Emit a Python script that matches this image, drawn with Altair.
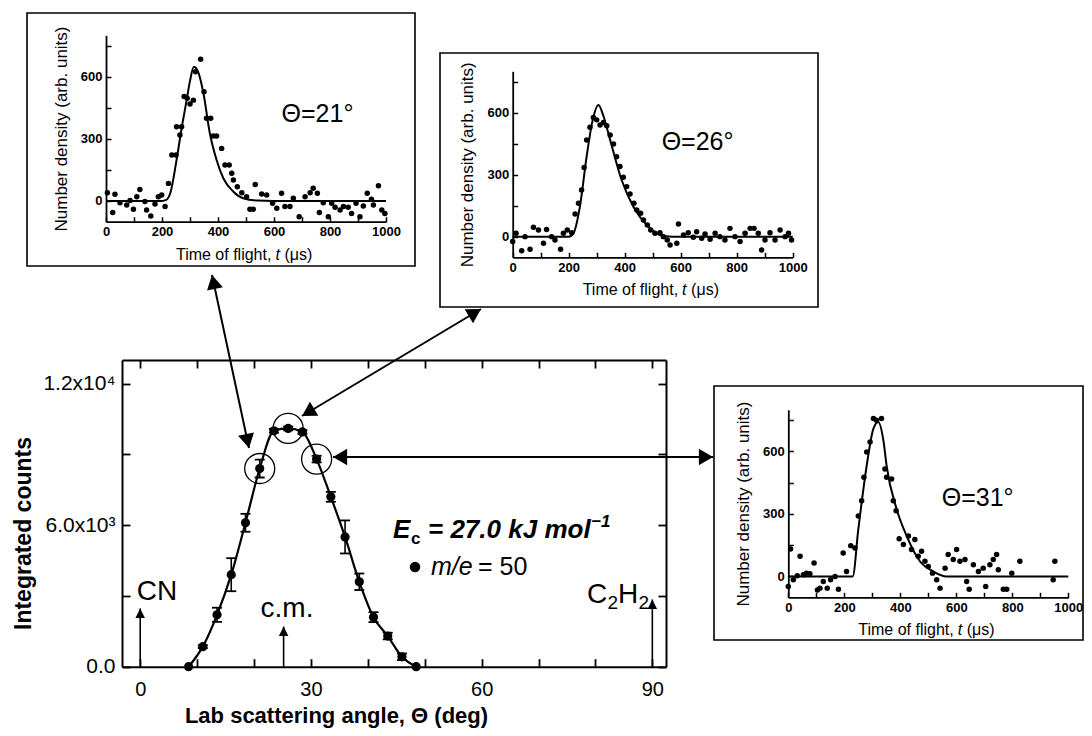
import math
import altair as alt
import pandas as pd

W, H = 1076, 720
FONT = "Liberation Sans"
INK = "black"

# ---------------- main angular distribution ----------------
theta = [8.5, 11, 13.5, 16, 18.5, 21, 23.5, 26, 28.5, 31, 33.5, 36, 38.5, 41, 43.5, 46, 48.5]
counts = [0, 850, 2200, 3900, 6100, 8400, 10000, 10100, 9950, 8800, 7200, 5500, 3600, 2100, 1300, 420, 0]
errs = [0, 60, 300, 700, 380, 380, 80, 80, 80, 140, 210, 700, 350, 210, 140, 140, 0]
circled = [21, 26, 31]

x_ticks_main = [0, 30, 60, 90]
x_minor_main = [0, 10, 20, 30, 40, 50, 60, 70, 80, 90]
y_ticks_main = [0, 6000, 12000]
y_tick_labels_main = ["0.0", "6.0x10³", "1.2x10⁴"]
y_minor_main = [0, 3000, 6000, 9000, 12000]

marker_angles = [0, 25.2, 90]
marker_tops = [2470, 1700, 2850]

# ---------------- TOF insets ----------------
t1 = [5, 24, 32, 50, 74, 86, 98, 110, 121, 139, 145, 160, 175, 187, 199, 211, 223, 235, 250, 252,
      264, 270, 279, 290, 300, 312, 320, 338, 350, 359, 374, 383, 395, 413, 425, 440, 449, 455, 469, 485,
      502, 514, 526, 533, 556, 574, 595, 610, 627, 639, 657, 669, 690, 711, 729, 740, 755, 762, 776, 794,
      806, 818, 836, 848, 865, 877, 893, 907, 919, 933, 948, 955, 973, 985, 996]
n1 = [40, -56, 32, -8, -19, 2, -40, 21, 56, -3, -43, -72, -14, 21, 29, -27, 85, 222, 222, 359,
      319, 359, 504, 496, 468, 487, 624, 684, 528, 399, 399, 314, 314, 254, 174, 174, 134, 101, 69, 40,
      21, -40, -40, 80, 34, 29, -11, -35, 37, -27, -27, 13, -76, 21, 40, 61, 37, -56, -8, -76,
      -11, -30, -43, -27, -30, -60, -11, -76, -24, 37, 8, -19, 74, -43, -60]
f1t = [0, 200, 215, 230, 252, 270, 288, 300, 314, 330, 348, 371, 395, 419, 455, 490, 540, 600, 1000]
f1n = [0, 0, 5, 40, 198, 350, 487, 580, 648, 620, 520, 326, 198, 110, 45, 13, 2, 0, 0]

t2 = [0, 12, 32, 44, 62, 74, 92, 110, 121, 139, 151, 171, 181, 195, 211, 223, 235, 246, 255, 264,
      276, 288, 300, 312, 324, 336, 348, 360, 371, 383, 395, 407, 419, 433, 443, 457, 467, 481, 493, 508,
      526, 538, 552, 562, 586, 592, 610, 627, 645, 657, 675, 687, 705, 723, 740, 758, 776, 794, 812, 830,
      848, 862, 877, 889, 901, 919, 937, 955, 973, 985, 996]
n2 = [-24, 16, -68, 0, -61, 45, 32, -32, 35, 0, -16, -61, 16, 32, 19, 110, 161, 226, 335, 468,
      529, 577, 565, 540, 552, 536, 492, 448, 387, 339, 287, 242, 206, 161, 129, 113, 81, 56, 32, 16,
      19, 0, -16, -40, -32, 61, 8, 19, -3, 24, -8, 13, -13, 16, 0, -16, 40, 0, -24, 16,
      40, 40, 16, -65, -16, 19, -16, 32, 0, 16, -16]
f2t = [0, 200, 217, 240, 264, 285, 306, 325, 348, 389, 431, 479, 526, 570, 1000]
f2n = [0, 0, 16, 145, 387, 560, 637, 580, 468, 274, 145, 56, 8, 0, 0]

t3 = [0, 8, 18, 32, 42, 54, 65, 77, 92, 104, 113, 125, 139, 151, 167, 179, 196, 208, 223, 238,
      250, 262, 270, 280, 292, 304, 315, 333, 345, 351, 369, 375, 385, 396, 411, 429, 440, 452, 464, 476,
      488, 500, 515, 530, 542, 560, 571, 589, 601, 613, 631, 637, 646, 661, 679, 696, 705, 720, 732, 744,
      750, 768, 780, 798, 827, 946, 952]
n3 = [-48, 132, -16, 3, 97, 8, 16, 13, 65, -65, -56, -24, -56, -16, 0, -61, 113, 24, 148, 137,
      290, 363, 476, 597, 645, 758, 750, 758, 516, 476, 468, 363, 315, 181, 153, 194, 129, 177, 97, 121,
      73, 48, 16, -16, -56, 40, 105, 81, 129, 73, 81, -24, -61, 56, 24, 40, -48, 56, 81, 105,
      32, -61, -61, 16, 73, -16, 73]
f3t = [0, 230, 250, 280, 304, 321, 340, 351, 387, 423, 470, 518, 565, 1000]
f3n = [0, 0, 226, 532, 710, 742, 650, 532, 323, 194, 73, 24, 0, 0]

inset_labels = ["Θ=21°", "Θ=26°", "Θ=31°"]
inset_label_t = [627, 532, 548]
inset_label_n = [420, 457, 379]
tof_ticks = [0, 200, 400, 600, 800, 1000]
tof_minor = [0, 100, 200, 300, 400, 500, 600, 700, 800, 900, 1000]
dens_ticks = [0, 300, 600]
dens_minor = [0, 150, 300, 450, 600, 750]
tof_title_parts = ["Time of flight,", "t", "(μs)"]
tof_title_anchor = 605   # position (in μs) of the italic "t" of the axis title

# ---------------- layout (reference pixel positions) ----------------
def frame(x0, x1, y0, y1, xdom, ydom):
    return dict(x0=x0, x1=x1, y0=y0, y1=y1, xdom=xdom, ydom=ydom)

MAIN = frame(122, 666, 666.7, 360, [-3.2, 92.4], [0, 13000])
IN1 = frame(106, 386, 221.7, 35.3, [0, 1000], [-100, 800])
IN2 = frame(512.7, 792.7, 257.3, 71.3, [0, 1000], [-100, 800])
IN3 = frame(788.3, 1068.3, 597.3, 409.8, [0, 1000], [-100, 800])
PAGE = frame(8, 8 + W, 8, 8 + H, [8, 8 + W], [8, 8 + H])

box_x = [27, 440, 714]
box_x2 = [415, 818, 1083]
box_y = [13, 53, 386]
box_y2 = [266, 307, 640]

arrow_ends = [(212, 275, 249, 448), (481, 309, 302, 416), (333, 457, 713, 457)]

HEAD_BIG = "M0,0L-1.15,2L1.15,2Z"
HEAD_SMALL = "M0,0L-1,2L1,2Z"


def xs(fr):
    return alt.Scale(domain=fr["xdom"], range=[fr["x0"] - 8, fr["x1"] - 8], zero=False, nice=False)


def ys(fr):
    return alt.Scale(domain=fr["ydom"], range=[fr["y0"] - 8, fr["y1"] - 8], zero=False, nice=False)


def X(field, fr, axis=None):
    return alt.X(f"{field}:Q", scale=xs(fr), axis=axis)


def Y(field, fr, axis=None):
    return alt.Y(f"{field}:Q", scale=ys(fr), axis=axis)


def off_bottom(yp):
    return (yp - 8) - H


def off_top(yp):
    return -(yp - 8)


def off_left(xp):
    return -(xp - 8)


def off_right(xp):
    return (xp - 8) - W


BASE = dict(grid=False, domainColor=INK, tickColor=INK, labelColor=INK, titleColor=INK,
            labelFont=FONT, titleFont=FONT, labelFlush=False, labelOverlap=False, zindex=1)


def axis_layer(fr, xaxis, yaxis):
    df = pd.DataFrame({"x": [fr["xdom"][0]], "y": [fr["ydom"][0]]})
    return alt.Chart(df).mark_point(opacity=0).encode(
        x=alt.X("x:Q", scale=xs(fr), axis=xaxis),
        y=alt.Y("y:Q", scale=ys(fr), axis=yaxis),
    )


def text_at(fr, x, y, text, size, align="left", dx=0, dy=0, weight="normal", style="normal", baseline="alphabetic"):
    df = pd.DataFrame({"x": [x], "y": [y], "text": [text]})
    return alt.Chart(df).mark_text(font=FONT, color=INK, fontSize=size, align=align, dx=dx, dy=dy,
                                   fontWeight=weight, fontStyle=style, baseline=baseline).encode(
        x=X("x", fr), y=Y("y", fr), text="text:N")


layers = []

# ---------- decoration in page coordinates ----------
boxes = pd.DataFrame({"x": box_x, "x2": box_x2, "y": box_y, "y2": box_y2})
layers.append(alt.Chart(boxes).mark_rect(fillOpacity=0, stroke=INK, strokeWidth=1.6).encode(
    x=X("x", PAGE), x2="x2:Q", y=Y("y", PAGE), y2="y2:Q"))

shaft_rows, head_rows = [], []
for (ax, ay, bx, by) in arrow_ends:
    shaft_rows.append({"x": ax, "y": ay, "x2": bx, "y2": by})
    for (tx, ty, sx_, sy_) in [(ax, ay, bx, by), (bx, by, ax, ay)]:
        ang = math.degrees(math.atan2(tx - sx_, -(ty - sy_))) % 360
        head_rows.append({"x": tx, "y": ty, "ang": ang})
layers.append(alt.Chart(pd.DataFrame(shaft_rows)).mark_rule(color=INK, strokeWidth=2).encode(
    x=X("x", PAGE), y=Y("y", PAGE), x2="x2:Q", y2="y2:Q"))
layers.append(alt.Chart(pd.DataFrame(head_rows)).mark_point(
    shape=HEAD_BIG, filled=True, size=200, color=INK, opacity=1, strokeWidth=0).encode(
    x=X("x", PAGE), y=Y("y", PAGE), angle=alt.Angle("ang:Q", scale=None)))

# ---------- main plot ----------
ylab_expr = " : ".join(
    [f"datum.value == {v} ? '{s}'" for v, s in zip(y_ticks_main[:-1], y_tick_labels_main[:-1])]
    + [f"'{y_tick_labels_main[-1]}'"])

layers.append(axis_layer(
    MAIN,
    alt.Axis(orient="bottom", offset=off_bottom(MAIN["y0"]), values=x_ticks_main, format="d",
             tickSize=0, labelPadding=13, labelFontSize=20, domainWidth=2,
             title="Lab scattering angle, Θ (deg)", titleFontSize=22, titleFontWeight="bold",
             titleX=336 - 8, titleY=715 - MAIN["y0"], titleAlign="center", titleBaseline="middle",
             **BASE),
    alt.Axis(orient="left", offset=off_left(MAIN["x0"]), values=y_ticks_main, labelExpr=ylab_expr,
             tickSize=0, labelPadding=7, labelFontSize=21, domainWidth=2,
             title="Integrated counts", titleFontSize=23, titleFontWeight="bold", titleAngle=270,
             titleX=23 - MAIN["x0"], titleY=533 - 8, titleAlign="center", titleBaseline="middle",
             **BASE)))
layers.append(axis_layer(
    MAIN,
    alt.Axis(orient="top", offset=off_top(MAIN["y0"]), values=x_minor_main, tickSize=8, tickWidth=1.8,
             labels=False, domain=False, title="", **BASE),
    alt.Axis(orient="right", offset=off_right(MAIN["x0"]), values=y_minor_main, tickSize=8, tickWidth=1.8,
             labels=False, domain=False, title="", **BASE)))
layers.append(axis_layer(
    MAIN,
    alt.Axis(orient="bottom", offset=off_bottom(MAIN["y1"]), values=x_minor_main, tickSize=8, tickWidth=1.8,
             labels=False, domain=True, domainWidth=2, title="", **BASE),
    alt.Axis(orient="left", offset=off_left(MAIN["x1"]), values=y_minor_main, tickSize=8, tickWidth=1.8,
             labels=False, domain=True, domainWidth=2, title="", **BASE)))

main_df = pd.DataFrame({"theta": theta, "counts": counts, "err": errs})
main_df["lo"] = main_df["counts"] - main_df["err"]
main_df["hi"] = main_df["counts"] + main_df["err"]
err_df = main_df[main_df["err"] > 0]

layers.append(alt.Chart(main_df).mark_line(color=INK, strokeWidth=2.2, interpolate="monotone").encode(
    x=X("theta", MAIN), y=Y("counts", MAIN)))
layers.append(alt.Chart(err_df).mark_rule(color=INK, strokeWidth=1.6).encode(
    x=X("theta", MAIN), y=Y("lo", MAIN), y2="hi:Q"))
for col in ["lo", "hi"]:
    layers.append(alt.Chart(err_df).mark_tick(orient="horizontal", size=10, thickness=1.8, color=INK,
                                              opacity=1).encode(x=X("theta", MAIN), y=Y(col, MAIN)))
layers.append(alt.Chart(main_df).mark_circle(size=85, color=INK, opacity=1).encode(
    x=X("theta", MAIN), y=Y("counts", MAIN)))
circ_df = main_df[main_df["theta"].isin(circled)]
layers.append(alt.Chart(circ_df).mark_point(shape="circle", filled=False, size=900, strokeWidth=1.3,
                                            color=INK, opacity=1).encode(
    x=X("theta", MAIN), y=Y("counts", MAIN)))

mk_df = pd.DataFrame({"ang": marker_angles, "base": [0] * len(marker_angles), "top": marker_tops})
layers.append(alt.Chart(mk_df).mark_rule(color=INK, strokeWidth=1.6).encode(
    x=X("ang", MAIN), y=Y("base", MAIN), y2="top:Q"))
layers.append(alt.Chart(mk_df).mark_point(shape=HEAD_SMALL, filled=True, size=90, color=INK, opacity=1,
                                          strokeWidth=0).encode(x=X("ang", MAIN), y=Y("top", MAIN)))

# species / c.m. labels (main data coordinates)
layers.append(text_at(MAIN, -0.6, 2830, "CN", 28))
layers.append(text_at(MAIN, 25.8, 2090, "c.m.", 28, align="center"))
layers.append(text_at(MAIN, 78.5, 2710, "C", 28))
layers.append(text_at(MAIN, 78.5, 2710, "2", 19, dx=20.5, dy=6))
layers.append(text_at(MAIN, 78.5, 2710, "H", 28, dx=31))
layers.append(text_at(MAIN, 78.5, 2710, "2", 19, dx=51.5, dy=6))

# collision energy and legend (page coordinates)
layers.append(text_at(PAGE, 393, 538, "E", 26, weight="bold", style="italic"))
layers.append(text_at(PAGE, 411, 544, "c", 17, weight="bold"))
layers.append(text_at(PAGE, 428, 538, "= 27.0 kJ mol", 26, weight="bold", style="italic"))
layers.append(text_at(PAGE, 591, 527, "−1", 17, weight="bold", style="italic"))
layers.append(alt.Chart(pd.DataFrame({"x": [415], "y": [567]})).mark_circle(size=110, color=INK, opacity=1).encode(
    x=X("x", PAGE), y=Y("y", PAGE)))
layers.append(text_at(PAGE, 431, 575, "m/e", 25, style="italic"))
layers.append(text_at(PAGE, 478, 575, "= 50", 25))

# ---------- insets ----------
for fr, tt, nn, ft, fn, lab, lt, ln in [
    (IN1, t1, n1, f1t, f1n, inset_labels[0], inset_label_t[0], inset_label_n[0]),
    (IN2, t2, n2, f2t, f2n, inset_labels[1], inset_label_t[1], inset_label_n[1]),
    (IN3, t3, n3, f3t, f3n, inset_labels[2], inset_label_t[2], inset_label_n[2]),
]:
    layers.append(axis_layer(
        fr,
        alt.Axis(orient="bottom", offset=off_bottom(fr["y0"]), values=tof_ticks, format="d", tickSize=0,
                 labelPadding=4, labelFontSize=13, labelFontWeight="bold", domainWidth=1.8,
                 title="", **BASE),
        alt.Axis(orient="left", offset=off_left(fr["x0"]), values=dens_ticks, format="d", tickSize=0,
                 labelPadding=4, labelFontSize=13, labelFontWeight="bold", domainWidth=1.8,
                 title="Number density (arb. units)", titleFontSize=17, titleFontWeight="normal",
                 titleAngle=270, titleX=-45, titleY=(fr["y0"] + fr["y1"]) / 2 - 8, titleAlign="center",
                 titleBaseline="middle", **BASE)))
    layers.append(axis_layer(
        fr,
        alt.Axis(orient="top", offset=off_top(fr["y0"]), values=tof_minor, tickSize=5, tickWidth=1.5,
                 labels=False, domain=False, title="", **BASE),
        alt.Axis(orient="right", offset=off_right(fr["x0"]), values=dens_minor, tickSize=5, tickWidth=1.5,
                 labels=False, domain=False, title="", **BASE)))
    pts = pd.DataFrame({"t": tt, "n": nn})
    fit = pd.DataFrame({"t": ft, "n": fn})
    layers.append(alt.Chart(fit).mark_line(color=INK, strokeWidth=2, interpolate="monotone").encode(
        x=X("t", fr), y=Y("n", fr)))
    layers.append(alt.Chart(pts).mark_circle(size=30, color=INK, opacity=1).encode(
        x=X("t", fr), y=Y("n", fr)))
    layers.append(text_at(fr, lt, ln, lab, 25, baseline="middle"))
    # axis title "Time of flight, t (μs)" with italic t
    y_base = fr["ydom"][0]
    layers.append(text_at(fr, tof_title_anchor, y_base, tof_title_parts[0], 16, align="right", dx=-4,
                          dy=33, baseline="middle"))
    layers.append(text_at(fr, tof_title_anchor, y_base, tof_title_parts[1], 16, align="left",
                          dy=33, baseline="middle", style="italic"))
    layers.append(text_at(fr, tof_title_anchor, y_base, tof_title_parts[2], 16, align="left", dx=9,
                          dy=33, baseline="middle"))

chart = alt.layer(*layers).resolve_scale(x="independent", y="independent").properties(
    width=W, height=H, autosize=alt.AutoSizeParams(type="none"), padding=0, background="white"
).configure_view(stroke=None)

chart.save("out.html", embed_options={"renderer": "svg", "actions": False})
